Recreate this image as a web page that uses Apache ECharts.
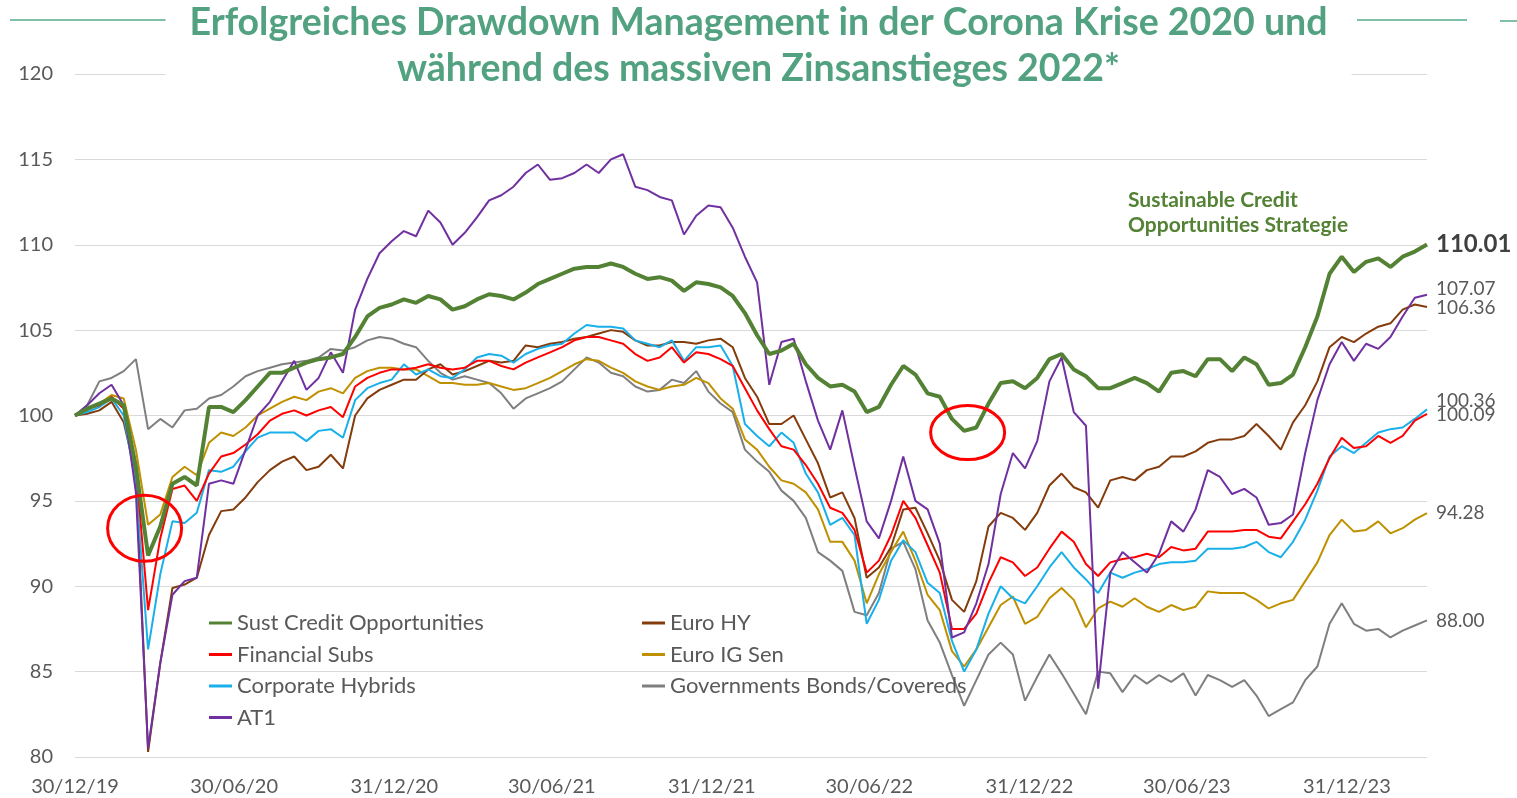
<!DOCTYPE html>
<html>
<head>
<meta charset="utf-8">
<script src="https://cdn.jsdelivr.net/npm/echarts@6.0.0/dist/echarts.min.js"></script>
<style>
  html, body { margin: 0; padding: 0; background: #fff; }
  #chart { width: 1517px; height: 798px; }
</style>
</head>
<body>
<div id="chart"></div>
<script>
// x ticks (days since 30/12/19) and their labels
var tickDays = [0, 183, 367, 548, 732, 913, 1097, 1278, 1462];
var tickLabels = ['30/12/19', '30/06/20', '31/12/20', '30/06/21', '31/12/21', '30/06/22', '31/12/22', '30/06/23', '31/12/23'];
// one value every 14 days
var stepDays = 14;

var sustCredit = [
  100.0, 100.4, 100.7, 101.0, 100.6, 97.0, 91.8, 93.5, 96.0, 96.4,
  95.9, 100.5, 100.5, 100.2, 100.9, 101.7, 102.5, 102.5, 102.8, 103.1,
  103.3, 103.4, 103.6, 104.6, 105.8, 106.3, 106.5, 106.8, 106.6, 107.0,
  106.8, 106.2, 106.4, 106.8, 107.1, 107.0, 106.8, 107.2, 107.7, 108.0,
  108.3, 108.6, 108.7, 108.7, 108.9, 108.7, 108.3, 108.0, 108.1, 107.9,
  107.3, 107.8, 107.7, 107.5, 107.0, 106.0, 104.7, 103.6, 103.8, 104.2,
  103.0, 102.2, 101.7, 101.8, 101.4, 100.2, 100.5, 101.8, 102.9, 102.4,
  101.3, 101.1, 99.8, 99.1, 99.3, 100.7, 101.9, 102.0, 101.6, 102.2,
  103.3, 103.6, 102.7, 102.3, 101.6, 101.6, 101.9, 102.2, 101.9, 101.4,
  102.5, 102.6, 102.3, 103.3, 103.3, 102.6, 103.4, 103.0, 101.8, 101.9,
  102.4, 104.0, 105.8, 108.3, 109.3, 108.4, 109.0, 109.2, 108.7, 109.3,
  109.6, 110.01
];
var financialSubs = [
  100.0, 100.4, 100.6, 101.1, 100.4, 97.0, 88.6, 92.8, 95.7, 95.9,
  95.0, 96.6, 97.6, 97.8, 98.3, 98.9, 99.7, 100.1, 100.3, 100.0,
  100.3, 100.5, 99.9, 101.7, 102.2, 102.5, 102.7, 102.7, 102.8, 103.0,
  102.8, 102.7, 102.8, 103.2, 103.2, 102.9, 102.7, 103.1, 103.4, 103.7,
  104.0, 104.4, 104.6, 104.6, 104.4, 104.2, 103.6, 103.2, 103.4, 104.0,
  103.1, 103.7, 103.6, 103.3, 102.9, 101.6, 100.3, 99.2, 98.2, 98.0,
  97.1, 96.0, 94.6, 94.3, 93.3, 90.8, 91.5, 93.0, 95.0, 94.0,
  92.4, 90.8, 87.5, 87.5, 88.4, 90.2, 91.7, 91.4, 90.6, 91.1,
  92.2, 93.2, 92.6, 91.3, 90.6, 91.4, 91.6, 91.7, 91.9, 91.7,
  92.3, 92.1, 92.2, 93.2, 93.2, 93.2, 93.3, 93.3, 92.9, 92.8,
  93.8, 94.8, 96.0, 97.5, 98.7, 98.1, 98.2, 98.8, 98.4, 98.8,
  99.7, 100.09
];
var corporateHybrids = [
  100.0, 100.2, 100.5, 101.0, 100.0, 96.0, 86.3, 90.7, 93.8, 93.7,
  94.3, 96.8, 96.7, 97.0, 97.9, 98.7, 99.0, 99.0, 99.0, 98.5,
  99.1, 99.2, 98.7, 100.9, 101.6, 101.9, 102.1, 103.0, 102.4, 102.7,
  102.3, 102.2, 102.7, 103.4, 103.6, 103.5, 103.1, 103.6, 103.9, 104.1,
  104.2, 104.8, 105.3, 105.2, 105.2, 105.1, 104.4, 104.2, 104.0, 104.4,
  103.2, 104.0, 104.0, 104.1, 102.9, 99.5, 98.8, 98.2, 99.0, 98.4,
  96.6, 95.5, 93.6, 94.0, 93.0, 87.8, 89.2, 91.5, 92.7, 92.0,
  90.2, 89.6, 86.8, 85.0, 86.3, 88.4, 90.0, 89.3, 89.0, 90.0,
  91.1, 92.0, 91.1, 90.4, 89.6, 90.8, 90.5, 90.8, 91.0, 91.3,
  91.4, 91.4, 91.5, 92.2, 92.2, 92.2, 92.3, 92.6, 92.0, 91.7,
  92.6, 93.9, 95.6, 97.6, 98.2, 97.8, 98.4, 99.0, 99.2, 99.3,
  99.8, 100.36
];
var at1 = [
  100.0, 100.6, 101.3, 101.8, 100.6, 95.5, 80.5, 85.5, 89.5, 90.3,
  90.5, 96.0, 96.2, 96.0, 98.0, 100.0, 100.8, 102.0, 103.2, 101.5,
  102.2, 103.7, 102.5, 106.2, 108.0, 109.5, 110.2, 110.8, 110.5, 112.0,
  111.3, 110.0, 110.7, 111.6, 112.6, 112.9, 113.4, 114.2, 114.7, 113.8,
  113.9, 114.2, 114.7, 114.2, 115.0, 115.3, 113.4, 113.2, 112.8, 112.6,
  110.6, 111.7, 112.3, 112.2, 111.0, 109.3, 107.8, 101.8, 104.3, 104.5,
  102.0, 99.7, 98.0, 100.3, 97.0, 93.8, 92.8, 95.0, 97.6, 95.0,
  94.5, 92.5, 87.0, 87.3, 89.0, 91.3, 95.4, 97.8, 96.9, 98.5,
  102.0, 103.4, 100.2, 99.4, 84.0, 90.8, 92.0, 91.4, 90.8, 91.9,
  93.8, 93.2, 94.5, 96.8, 96.4, 95.4, 95.7, 95.2, 93.6, 93.7,
  94.2, 97.8, 100.9, 103.0, 104.3, 103.2, 104.2, 103.9, 104.6, 105.8,
  106.9, 107.07
];
var euroHY = [
  100.0, 100.1, 100.3, 100.8, 99.6, 96.5, 80.3, 85.5, 89.9, 90.1,
  90.5, 93.0, 94.4, 94.5, 95.2, 96.1, 96.8, 97.3, 97.6, 96.8,
  97.0, 97.7, 96.9, 100.0, 101.0, 101.5, 101.8, 102.1, 102.1, 102.7,
  103.0, 102.4, 102.6, 102.9, 103.2, 103.1, 103.2, 104.1, 104.0, 104.2,
  104.3, 104.5, 104.6, 104.8, 105.0, 104.9, 104.4, 104.1, 104.1, 104.3,
  104.3, 104.2, 104.4, 104.5, 104.0, 102.2, 101.1, 99.5, 99.5, 100.0,
  98.6, 97.2, 95.2, 95.5, 94.0, 90.5, 91.1, 92.3, 94.5, 94.6,
  93.1, 91.5, 89.2, 88.5, 90.3, 93.5, 94.3, 94.0, 93.3, 94.3,
  95.9, 96.6, 95.8, 95.5, 94.6, 96.2, 96.4, 96.2, 96.8, 97.0,
  97.6, 97.6, 97.9, 98.4, 98.6, 98.6, 98.8, 99.5, 98.8, 98.0,
  99.6, 100.6, 102.0, 104.0, 104.6, 104.3, 104.8, 105.2, 105.4, 106.2,
  106.5, 106.36
];
var euroIGSen = [
  100.0, 100.3, 100.7, 101.2, 101.0, 98.0, 93.6, 94.2, 96.4, 97.0,
  96.5, 98.4, 99.0, 98.8, 99.3, 100.0, 100.4, 100.8, 101.1, 100.9,
  101.4, 101.6, 101.3, 102.2, 102.6, 102.8, 102.8, 102.7, 102.7, 102.3,
  101.9, 101.9, 101.8, 101.8, 101.9, 101.7, 101.5, 101.6, 101.9, 102.2,
  102.6, 103.0, 103.3, 103.2, 102.8, 102.5, 102.0, 101.7, 101.5, 101.7,
  101.8, 102.2, 101.9, 101.0, 100.4, 98.6, 98.0, 97.0, 96.2, 96.0,
  95.5, 94.5, 92.6, 92.6, 91.5, 89.0, 90.7, 92.0, 93.2, 91.5,
  89.5, 88.6, 86.2, 85.3, 86.3, 87.6, 88.9, 89.4, 87.8, 88.2,
  89.3, 89.9, 89.2, 87.6, 88.7, 89.1, 88.8, 89.3, 88.8, 88.5,
  88.9, 88.6, 88.8, 89.7, 89.6, 89.6, 89.6, 89.2, 88.7, 89.0,
  89.2, 90.3, 91.4, 93.0, 93.9, 93.2, 93.3, 93.8, 93.1, 93.4,
  93.9, 94.28
];
var govCovered = [
  100.0, 100.6, 102.0, 102.2, 102.6, 103.3, 99.2, 99.8, 99.3, 100.3,
  100.4, 101.0, 101.2, 101.7, 102.3, 102.6, 102.8, 103.0, 103.1, 103.2,
  103.4, 103.9, 103.8, 104.0, 104.4, 104.6, 104.5, 104.2, 104.0, 103.2,
  102.5, 102.1, 102.3, 102.1, 101.9, 101.3, 100.4, 101.0, 101.3, 101.6,
  102.0, 102.7, 103.4, 103.1, 102.5, 102.3, 101.7, 101.4, 101.5, 102.1,
  101.9, 102.6, 101.4, 100.7, 100.2, 98.0, 97.3, 96.7, 95.6, 95.0,
  94.0, 92.0, 91.5, 90.9, 88.5, 88.3, 89.6, 92.2, 92.6, 91.0,
  88.0, 86.7, 84.8, 83.0, 84.5, 86.0, 86.7, 86.0, 83.3, 84.7,
  86.0, 84.9, 83.7, 82.5, 85.0, 84.9, 83.8, 84.8, 84.3, 84.8,
  84.4, 84.9, 83.6, 84.8, 84.5, 84.1, 84.5, 83.6, 82.4, 82.8,
  83.2, 84.5, 85.3, 87.8, 89.0, 87.8, 87.4, 87.5, 87.0, 87.4,
  87.7, 88.00
];

// red circles: centre in data units (days, value), radii in px
var circleCenters = [[80, 93.4], [1026, 99.0]];
var circleRadii = [[37, 33], [37, 27]];

var chart = echarts.init(document.getElementById('chart'));

function toPoints(values) {
  return values.map(function (v, i) { return [i * stepDays, v]; });
}

function endLabel(dy, big) {
  return {
    show: true,
    distance: 9,
    offset: [0, dy],
    fontFamily: 'Lato',
    fontSize: big ? 24 : 19,
    fontWeight: big ? 'bold' : 'normal',
    color: big ? '#404040' : '#595959',
    formatter: function (p) { return p.value[1].toFixed(2); }
  };
}

function line(name, values, color, width, dy, big) {
  return {
    name: name,
    type: 'line',
    data: toPoints(values),
    showSymbol: false,
    symbol: 'none',
    color: color,
    lineStyle: { color: color, width: width },
    endLabel: endLabel(dy, big),
    labelLayout: { hideOverlap: false },
    emphasis: { disabled: true }
  };
}

var legendText = { fontFamily: 'Lato', fontSize: 22, color: '#595959', lineHeight: 22 };

var option = {
  animation: false,
  backgroundColor: '#fff',
  title: {
    text: 'Erfolgreiches Drawdown Management in der Corona Krise 2020 und\nwährend des massiven Zinsanstieges 2022*',
    left: 'center',
    top: 0,
    padding: [0, 24, 4, 24],
    backgroundColor: '#fff',
    textStyle: {
      fontFamily: 'Lato',
      fontWeight: 'bold',
      fontSize: 37.5,
      lineHeight: 46,
      color: '#52a281'
    }
  },
  grid: { left: 75, right: 90, top: 74, bottom: 41 },
  legend: [{
    orient: 'vertical',
    left: 209,
    top: 612,
    padding: 0,
    itemGap: 9.5,
    icon: 'rect',
    itemWidth: 23,
    itemHeight: 3,
    textStyle: legendText,
    data: ['Sust Credit Opportunities', 'Financial Subs', 'Corporate Hybrids', 'AT1']
  }, {
    orient: 'vertical',
    left: 642,
    top: 612,
    padding: 0,
    itemGap: 9.5,
    icon: 'rect',
    itemWidth: 23,
    itemHeight: 3,
    textStyle: legendText,
    data: ['Euro HY', 'Euro IG Sen', 'Governments Bonds/Covereds']
  }],
  xAxis: {
    type: 'value',
    min: 0,
    max: (sustCredit.length - 1) * stepDays,
    axisLine: { show: false },
    axisTick: { show: false },
    splitLine: { show: false },
    axisLabel: {
      customValues: tickDays,
      margin: 20,
      fontFamily: 'Lato',
      fontSize: 20,
      color: '#595959',
      formatter: function (v) {
        var k = tickDays.indexOf(v);
        return k >= 0 ? tickLabels[k] : '';
      }
    }
  },
  yAxis: {
    type: 'value',
    min: 80,
    max: 120,
    interval: 5,
    axisLine: { show: false },
    axisTick: { show: false },
    splitLine: { lineStyle: { color: '#d9d9d9', width: 1 } },
    axisLabel: {
      margin: 22,
      fontFamily: 'Lato',
      fontSize: 20,
      color: '#595959'
    }
  },
  series: [
    line('Governments Bonds/Covereds', govCovered, '#7f7f7f', 2, 0, false),
    line('Euro IG Sen', euroIGSen, '#bf9000', 2, 0, false),
    line('Euro HY', euroHY, '#843c0c', 2, 1, false),
    line('Corporate Hybrids', corporateHybrids, '#19b0ea', 2, -8, false),
    line('Financial Subs', financialSubs, '#ff0000', 2, 1, false),
    line('AT1', at1, '#7030a0', 2, -6, false),
    line('Sust Credit Opportunities', sustCredit, '#548235', 4, 0, true)
  ],
  graphic: [
    { type: 'line', shape: { x1: 10, y1: 20, x2: 173, y2: 20 }, style: { stroke: '#7fbfa5', lineWidth: 2 } },
    { type: 'line', shape: { x1: 1357, y1: 20, x2: 1467, y2: 20 }, style: { stroke: '#7fbfa5', lineWidth: 2 } },
    { type: 'line', shape: { x1: 1500, y1: 21, x2: 1517, y2: 21 }, style: { stroke: '#7fbfa5', lineWidth: 2 } },
    {
      type: 'text',
      left: 1128,
      top: 188,
      style: {
        text: 'Sustainable Credit\nOpportunities Strategie',
        font: 'bold 21px Lato',
        lineHeight: 25,
        fill: '#548235'
      }
    }
  ]
};

chart.setOption(option);

// annotation circles anchored to data coordinates
var circles = circleCenters.map(function (c, k) {
  var p = chart.convertToPixel({ gridIndex: 0 }, c);
  return {
    type: 'ellipse',
    shape: { cx: p[0], cy: p[1], rx: circleRadii[k][0], ry: circleRadii[k][1] },
    style: { fill: null, stroke: '#ff0000', lineWidth: 3 },
    z: 100
  };
});
chart.setOption({ graphic: option.graphic.concat(circles) });
</script>
</body>
</html>
